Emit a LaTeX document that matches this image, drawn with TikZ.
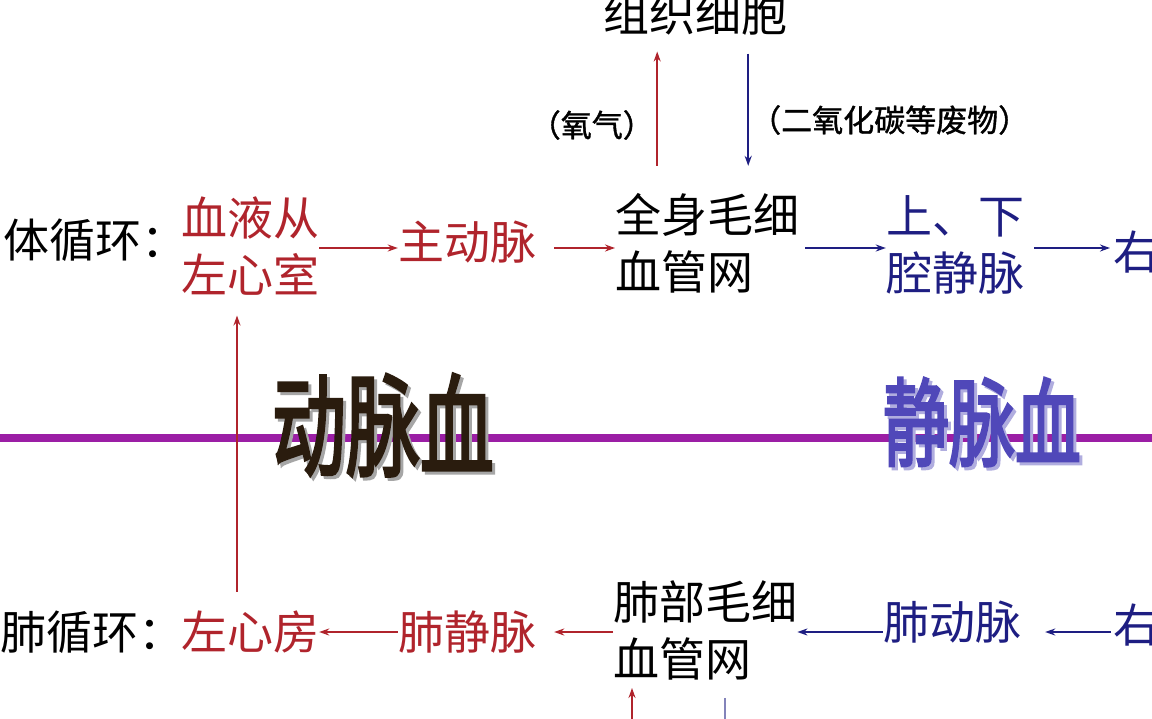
\documentclass[tikz,border=0pt]{standalone}
\usepackage{fontspec}
\usepackage{graphicx}
\usepackage{color}
\newfontfamily\cjk{Noto Sans CJK SC}
\newfontfamily\cjkbf[FakeBold=3]{Noto Sans CJK SC}
\newfontfamily\cjkmid[FakeBold=1.2]{Noto Sans CJK SC}
\usetikzlibrary{arrows.meta}

\definecolor{xuehong}{RGB}{176,36,44}
\definecolor{jingzi}{RGB}{30,30,130}
\definecolor{hengzi}{RGB}{155,30,165}
\definecolor{jinglan}{RGB}{80,72,185}
\definecolor{dongmai}{RGB}{42,28,14}

\begin{document}
\begin{tikzpicture}[x=1pt,y=-1pt,
  txt/.style={inner sep=0pt, align=center, font=\cjk\fontsize{46}{57}\selectfont},
  note/.style={inner sep=0pt, font=\cjkmid\fontsize{31}{36}\selectfont},
  big/.style={inner sep=0pt, font=\cjkbf\fontsize{74}{80}\selectfont},
  hong/.style={draw=xuehong, line width=1.8pt, -{Stealth[length=10pt,width=7pt]}},
  lan/.style={draw=jingzi, line width=1.8pt, -{Stealth[length=10pt,width=7pt]}}]
\useasboundingbox (0,0) rectangle (1152,718);
\clip (0,0) rectangle (1152,718);
\fill[white] (0,0) rectangle (1152,718);
%% dividing line
\draw[hengzi, line width=8pt] (0,438) -- (1152,438);
\node[big, text=black!35] (dmxs) at (386,428) {\scalebox{1}[1.5]{动脉血}};
\node[big, text=dongmai] (dmx) at (383,425) {\scalebox{1}[1.5]{动脉血}};
\node[big, text=jinglan!45, font=\cjkbf\fontsize{66}{70}\selectfont] (jmxs) at (985,425) {\scalebox{1}[1.45]{静脉血}};
\node[big, text=jinglan, font=\cjkbf\fontsize{66}{70}\selectfont] (jmx) at (982,422) {\scalebox{1}[1.45]{静脉血}};
%% top
\node[txt] (zz) at (695,14) {组织细胞};
\node[note, anchor=east] (yq) at (654,125) {（氧气）};
\node[note, anchor=west] (eyht) at (750,120) {（二氧化碳等废物）};
%% systemic circulation
\node[txt, anchor=west] (ti) at (3,240) {体循环：};
\node[txt, text=xuehong] (zxs) at (250,246) {血液从\\左心室};
\node[txt, text=xuehong] (zdm) at (467,242) {主动脉};
\node[txt, anchor=west, align=left] (qs) at (615,243) {全身毛细\\血管网};
\node[txt, text=jingzi] (qjm) at (955,245) {上、下\\腔静脉};
\node[txt, text=jingzi, anchor=west] (yxf) at (1113,252) {右};
\draw[hong] ([yshift=-2pt]zxs.east) -- ([yshift=-2pt]zxs.east -| zdm.west);
\draw[hong, shorten <=18pt] ([yshift=-6pt]zdm.east) -- ([yshift=-6pt]zdm.east -| qs.west);
\draw[lan, shorten <=6pt] ([yshift=-5pt]qs.east) -- ([yshift=-5pt]qs.east -| qjm.west);
\draw[lan, shorten <=10pt, shorten >=3pt] ([yshift=-3pt]qjm.east) -- ([yshift=-3pt]qjm.east -| yxf.west);
\draw[hong, shorten <=27pt, shorten >=16pt] ([xshift=-50pt]qs.north) -- ([xshift=-50pt]qs.north |- zz.south);
\draw[lan, shorten <=18pt, shorten >=27pt] ([xshift=41pt]qs.north |- zz.south) -- ([xshift=41pt]qs.north);
%% pulmonary circulation
\node[txt, anchor=west] (fei) at (0,632) {肺循环：};
\node[txt, text=xuehong] (zxf) at (250,632) {左心房};
\node[txt, text=xuehong] (fjm) at (467,632) {肺静脉};
\node[txt, anchor=west, align=left] (fb) at (613,630) {肺部毛细\\血管网};
\node[txt, text=jingzi] (fdm) at (952,622) {肺动脉};
\node[txt, text=jingzi, anchor=west] (yxs) at (1113,625) {右};
\draw[hong] (fjm.west) -- (fjm.west -| zxf.east);
\draw[hong, shorten >=18pt] (fjm.east -| fb.west) -- (fjm.east);
\draw[lan] ([yshift=-10pt]fdm.west) -- ([yshift=-10pt]fdm.west -| fb.east);
\draw[lan, shorten <=2pt, shorten >=24pt] ([yshift=-7pt]yxs.west) -- ([yshift=-7pt]yxs.west -| fdm.east);
\draw[hong, shorten <=19pt, shorten >=20pt] ([xshift=-13pt]zxf.north) -- ([xshift=-13pt]zxs.south);
%% bottom, cut off
\coordinate (fbin) at (632,740);
\coordinate (fbout) at (725,740);
\draw[hong, shorten >=8pt] (fbin) -- (fbin |- fb.south);
\draw[lan, draw=jingzi!55, shorten <=18pt] (fbout |- fb.south) -- (fbout);
\end{tikzpicture}
\end{document}
